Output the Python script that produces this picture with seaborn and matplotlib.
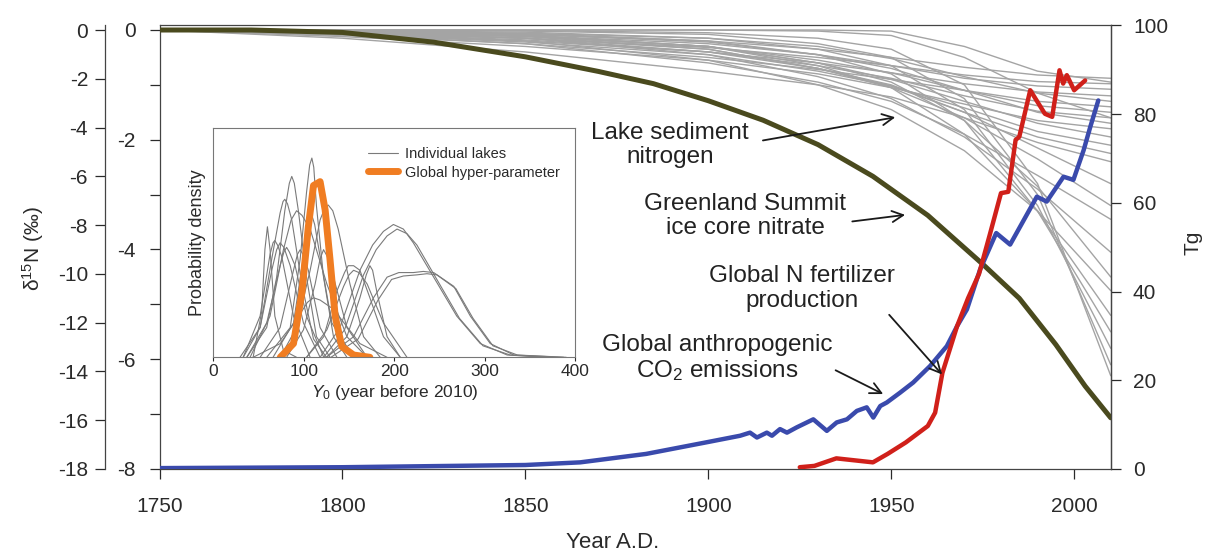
import pandas as pd
import matplotlib.pyplot as plt
import seaborn as sns

# Style
sns.set_theme(style='ticks')
plt.rcParams['font.family'] = ['Liberation Sans', 'DejaVu Sans']
plt.rcParams['mathtext.fontset'] = 'custom'
plt.rcParams['mathtext.rm'] = 'Liberation Sans'
plt.rcParams['mathtext.it'] = 'Liberation Sans:italic'
plt.rcParams['mathtext.bf'] = 'Liberation Sans:bold'
plt.rcParams['axes.unicode_minus'] = False

# ---------------- data ----------------
# lake sediment d15N model curves (permil), shared year grid
lake_years = [1750, 1800, 1850, 1900, 1930, 1950, 1970, 1990, 2010]
lake_d15n = [
    [0, -0.02, -0.08, -0.20, -0.35, -0.50, -0.68, -0.82, -0.88],
    [0, -0.05, -0.15, -0.32, -0.50, -0.65, -0.82, -0.94, -0.98],
    [0, -0.03, -0.10, -0.25, -0.45, -0.65, -0.88, -1.02, -1.08],
    [0, -0.08, -0.20, -0.40, -0.60, -0.78, -0.98, -1.13, -1.20],
    [0, -0.02, -0.06, -0.15, -0.30, -0.52, -0.85, -1.15, -1.30],
    [0, -0.10, -0.25, -0.50, -0.72, -0.90, -1.10, -1.30, -1.40],
    [0, -0.04, -0.12, -0.30, -0.55, -0.78, -1.10, -1.38, -1.50],
    [0, -0.06, -0.18, -0.40, -0.65, -0.88, -1.20, -1.48, -1.60],
    [0, -0.02, -0.08, -0.22, -0.45, -0.70, -1.10, -1.50, -1.70],
    [0, -0.12, -0.30, -0.55, -0.80, -1.05, -1.35, -1.65, -1.80],
    [0, -0.03, -0.10, -0.30, -0.60, -0.90, -1.30, -1.70, -1.95],
    [0, -0.08, -0.22, -0.45, -0.75, -1.02, -1.42, -1.85, -2.10],
    [0, -0.05, -0.15, -0.35, -0.70, -1.02, -1.50, -1.95, -2.25],
    [0, -0.15, -0.40, -0.75, -1.00, -1.22, -1.60, -2.05, -2.40],
    [0, 0, 0, 0, 0, -0.02, -0.30, -0.75, -0.95],
    [0, 0, 0, 0, -0.02, -0.10, -0.50, -1.15, -1.60],
    [0, -0.05, -0.15, -0.40, -0.70, -1.00, -1.50, -2.15, -2.80],
    [0, -0.03, -0.12, -0.35, -0.70, -1.05, -1.60, -2.35, -3.20],
    [0, -0.08, -0.25, -0.60, -0.95, -1.30, -1.90, -2.65, -3.45],
    [0, -0.04, -0.15, -0.45, -0.85, -1.25, -1.95, -2.90, -4.05],
    [0, -0.02, -0.10, -0.30, -0.60, -0.95, -1.65, -2.85, -4.50],
    [0, -0.06, -0.20, -0.55, -1.00, -1.45, -2.20, -3.30, -4.75],
    [0, -0.03, -0.10, -0.30, -0.65, -1.05, -1.90, -3.30, -5.20],
    [0, -0.02, -0.06, -0.20, -0.45, -0.80, -1.65, -3.30, -5.50],
    [0, -0.01, -0.04, -0.15, -0.35, -0.65, -1.45, -3.20, -5.80],
    [0, 0, -0.02, -0.08, -0.25, -0.50, -1.25, -3.00, -6.10],
    [0, 0, -0.01, -0.05, -0.15, -0.35, -1.00, -2.80, -6.30],
]

# Greenland Summit ice core nitrate d15N (outer axis, permil)
ice_years = [1750, 1775, 1800, 1825, 1850, 1870, 1885, 1900, 1915, 1930, 1945,
             1960, 1975, 1985, 1995, 2003, 2010]
ice_d15n = [0, 0, -0.1, -0.5, -1.1, -1.7, -2.2, -2.9, -3.7, -4.7, -6.0,
            -7.6, -9.6, -11.0, -12.9, -14.6, -15.9]

# Global anthropogenic CO2 emissions (Tg)
co2_years = [1750, 1800, 1850, 1865, 1883, 1900, 1908.7, 1911.4, 1913.3, 1916, 1917.4,
             1919.6, 1921.5, 1924.2, 1928.7, 1932.4, 1935.1, 1937.9, 1940.6, 1943.3,
             1945.1, 1947, 1948.8, 1952.4, 1956, 1960.6, 1965.2, 1968, 1970.7, 1974.3,
             1978.7, 1982.5, 1989.8, 1992.5, 1997.1, 1999.8, 2002.6, 2004.4, 2006.6]
co2_tg = [0.2, 0.4, 0.9, 1.5, 3.4, 6.1, 7.5, 8.2, 7.1, 8.2, 7.5,
          9.0, 8.2, 9.4, 11.2, 8.6, 10.5, 11.2, 13.1, 13.9,
          11.6, 14.2, 15.0, 17.2, 19.5, 23.2, 27.7, 32.2, 36.0, 45.0,
          53.2, 50.6, 61.4, 60.3, 65.9, 65.2, 71.9, 77.1, 83.1]

# Global N fertilizer production (Tg)
fert_years = [1925, 1929, 1935, 1945, 1949, 1954, 1960, 1962, 1964, 1968, 1971, 1974,
              1977, 1980, 1982, 1984, 1985, 1988, 1992, 1994, 1996, 1997, 1998, 2000, 2003]
fert_tg = [0.4, 0.7, 2.4, 1.5, 3.4, 6.0, 9.7, 12.7, 21.7, 32.2, 38.5, 44.0,
           53.0, 62.2, 62.5, 74.2, 74.9, 85.4, 80.1, 79.4, 89.9, 86.9, 88.8, 85.4, 87.6]

# inset: posterior densities of Y0 (years before 2010)
density_x = [
    [44, 53.5, 57, 59.8, 62.7, 68, 77.5, 92],
    [37, 59, 70, 79, 84, 86.7, 89.5, 94, 103, 114, 129],
    [59, 85, 96, 103, 106.5, 108.9, 111, 114, 121.8, 132.8, 147.6],
    [33, 51.7, 64.6, 73.8, 77, 79, 82, 86.7, 97.8, 110.7, 125],
    [74, 92, 107, 118, 123, 127, 132, 138, 151, 166, 184.5],
    [118, 140, 162, 176, 188, 199, 210, 221, 243.5, 269, 295, 324.7, 369],
    [125, 155, 177, 192, 205, 221, 232, 243.5, 265.7, 284, 306, 332, 387],
    [103, 122, 136.6, 145, 149, 155, 162, 173, 188, 206.6],
    [125, 147.6, 162, 169, 173, 176, 181, 192, 206.6],
    [37, 59, 73.8, 78, 81, 84, 90.4, 103, 122],
    [51.7, 73.8, 88.6, 93, 96, 99, 105, 118, 136.6],
    [66, 88.6, 99.6, 105, 108.9, 112, 118, 131, 155],
    [40.6, 62.7, 77.5, 86, 92, 98, 107, 125.5, 147.6, 170],
    [29.5, 51.7, 64.6, 70, 73.8, 78, 85, 99.6, 118],
    [81, 99.6, 112.5, 118, 121.8, 126, 132.8, 147.6, 170],
    [103, 125.5, 144, 150, 155, 161, 170, 188, 214],
    [44, 74, 96, 104, 110.7, 118, 132.8, 162, 192],
    [33, 51.7, 62.7, 66, 68, 71, 75.6, 88.6, 107],
    [122, 145, 166, 180, 192, 203, 214, 225, 247, 272, 298, 328, 372],
    [130, 160, 182, 197, 210, 225, 236, 247, 268, 287, 309, 336, 390],
]
density_y = [
    [0, .20, .47, .57, .47, .18, .03, 0],
    [0, .13, .35, .64, .76, .79, .76, .64, .35, .09, 0],
    [0, .13, .43, .72, .84, .87, .83, .66, .35, .09, 0],
    [0, .13, .43, .63, .68, .69, .67, .60, .32, .08, 0],
    [0, .13, .38, .60, .65, .665, .64, .56, .32, .09, 0],
    [0, .13, .38, .49, .55, .58, .56, .50, .35, .18, .06, .01, 0],
    [0, .09, .26, .35, .37, .37, .375, .37, .31, .18, .06, .01, 0],
    [0, .09, .29, .37, .40, .40, .38, .26, .09, 0],
    [0, .09, .26, .36, .40, .38, .28, .09, 0],
    [0, .15, .40, .46, .48, .46, .40, .18, 0],
    [0, .13, .38, .45, .47, .45, .38, .13, 0],
    [0, .15, .44, .57, .62, .58, .44, .15, 0],
    [0, .18, .47, .60, .64, .62, .56, .32, .09, 0],
    [0, .13, .38, .47, .50, .48, .40, .15, 0],
    [0, .12, .32, .43, .47, .44, .35, .13, 0],
    [0, .12, .31, .36, .38, .37, .32, .15, 0],
    [0, .06, .19, .24, .26, .25, .21, .06, 0],
    [0, .18, .45, .50, .51, .49, .44, .18, 0],
    [0, .12, .36, .47, .53, .56, .54, .49, .34, .17, .05, .01, 0],
    [0, .08, .25, .34, .355, .36, .365, .36, .30, .17, .05, .01, 0],
]
hyper_x = [74, 88.6, 97.8, 105, 110.7, 118, 123.6, 129, 134.7, 142, 155, 173]
hyper_y = [0, .06, .28, .57, .75, .767, .643, .425, .178, .047, .01, 0]

# ---------------- figure ----------------
fig = plt.figure(figsize=(12.06, 5.53), dpi=100)
ax = fig.add_axes([0.1323, 0.1519, 0.7887, 0.802])
ax_out = ax.twinx()
ax_tg = ax.twinx()

text_col = '#2a2a2a'
spine_col = '#444444'

# lake sediment curves
lake_df = pd.DataFrame([
    {'lake': i, 'year': yr, 'd15n': v}
    for i, vals in enumerate(lake_d15n)
    for yr, v in zip(lake_years, vals)
])
sns.lineplot(data=lake_df, x='year', y='d15n', units='lake', estimator=None,
             color='#a4a4a4', lw=1.0, ax=ax, legend=False)

# Greenland ice core
sns.lineplot(x=ice_years, y=ice_d15n, color='#4a4a1e', lw=3.6, ax=ax_out,
             estimator=None, sort=False)

# emissions and fertilizer
sns.lineplot(x=co2_years, y=co2_tg, color='#3a4aac', lw=3.2, ax=ax_tg,
             estimator=None, sort=False)
sns.lineplot(x=fert_years, y=fert_tg, color='#d0201a', lw=3.2, ax=ax_tg,
             estimator=None, sort=False)

# axes setup
ax.set_xlim(1750, 2010)
ax.set_ylim(-8, 0.082)
ax.set_xticks(range(1750, 2001, 50))
ax.set_yticks([0, -2, -4, -6, -8])
ax.set_yticks([-1, -3, -5, -7], minor=True)
ax.tick_params(axis='y', which='both', direction='out', length=7, width=0.9,
               labelsize=15, pad=10, colors=text_col)
ax.tick_params(axis='x', direction='out', length=7, width=0.9,
               labelsize=15, pad=13, colors=text_col)
for s in ax.spines.values():
    s.set_visible(True)
    s.set_color(spine_col)
    s.set_linewidth(0.9)
ax.set_xlabel('Year A.D.', fontsize=16, color=text_col)
ax.xaxis.set_label_coords(0.476, -0.142)
ax.set_ylabel('')

ax_out.set_ylim(-18, 0.185)
ax_out.yaxis.tick_left()
ax_out.yaxis.set_label_position('left')
ax_out.set_yticks(range(0, -19, -2))
ax_out.tick_params(axis='y', direction='out', length=7, width=0.9,
                   labelsize=15, pad=5.5, colors=text_col)
for name, s in ax_out.spines.items():
    s.set_visible(name == 'left')
ax_out.spines['left'].set_position(('outward', 39))
ax_out.spines['left'].set_color(spine_col)
ax_out.spines['left'].set_linewidth(0.9)
ax_out.set_ylabel('δ$^{15}$N (‰)', fontsize=15, color=text_col)
ax_out.yaxis.set_label_coords(-0.119, 0.497)
ax_out.set_xlabel('')

ax_tg.set_ylim(0, 100)
ax_tg.set_yticks(range(0, 101, 20))
ax_tg.tick_params(axis='y', direction='out', length=7, width=0.9,
                  labelsize=15, pad=9, colors=text_col)
for name, s in ax_tg.spines.items():
    s.set_visible(name == 'right')
ax_tg.spines['right'].set_color(spine_col)
ax_tg.spines['right'].set_linewidth(0.9)
ax_tg.set_ylabel('Tg', fontsize=15, color=text_col, rotation=90)
ax_tg.yaxis.set_label_coords(1.077, 0.51)
ax_tg.set_xlabel('')

# annotations
arrow = dict(arrowstyle='->', color='#1a1a1a', lw=1.3, mutation_scale=20, shrinkB=0)
notes = [
    ('Lake sediment\nnitrogen', (1951.1, 79.3), (1889.5, 73.0), (1.0, 0.55), 8),
    ('Greenland Summit\nice core nitrate', (1953.8, 57.3), (1910.1, 57.1), (1.0, 0.36), 2),
    ('Global N fertilizer\nproduction', (1963.9, 21.3), (1925.6, 40.7), (0.89, 0.29), 0),
    ('Global anthropogenic\nCO$_2$ emissions', (1947.8, 16.9), (1902.4, 25.0), (0.96, 0.38), 0),
]
for txt, xy, xytext, rel, shr in notes:
    ax_tg.annotate(txt, xy=xy, xytext=xytext, ha='center', va='center',
                   fontsize=17.5, color='#222222', linespacing=1.12,
                   arrowprops=dict(arrow, relpos=rel, shrinkA=shr))

# inset
ins = fig.add_axes([0.17687, 0.35389, 0.30017, 0.41410])
ins.set_facecolor('white')
for i, (xs, ys) in enumerate(zip(density_x, density_y)):
    sns.lineplot(x=xs, y=ys, color='#7a7a7a', lw=0.8, ax=ins, estimator=None,
                 sort=False, label='Individual lakes' if i == 0 else None)
sns.lineplot(x=hyper_x, y=hyper_y, color='#f07d22', lw=5, ax=ins, estimator=None,
             sort=False, label='Global hyper-parameter')
ins.set_xlim(0, 400)
ins.set_ylim(0, 1)
ins.set_xticks([0, 100, 200, 300, 400])
ins.set_yticks([])
ins.tick_params(axis='x', direction='out', length=3, width=0.8, labelsize=12.5,
                pad=2, colors=text_col)
for s in ins.spines.values():
    s.set_visible(True)
    s.set_color('#777777')
    s.set_linewidth(0.8)
ins.set_xlabel('$\\it{Y_0}$ (year before 2010)', fontsize=12.5, color=text_col, labelpad=3)
ins.set_ylabel('Probability density', fontsize=13, color=text_col, labelpad=5)
ins.legend(loc='upper left', bbox_to_anchor=(0.392, 0.975), frameon=False, fontsize=10.5,
           handlelength=2.0, handletextpad=0.5, labelspacing=0.3, labelcolor=text_col)

fig.savefig('out.png', dpi=100)
